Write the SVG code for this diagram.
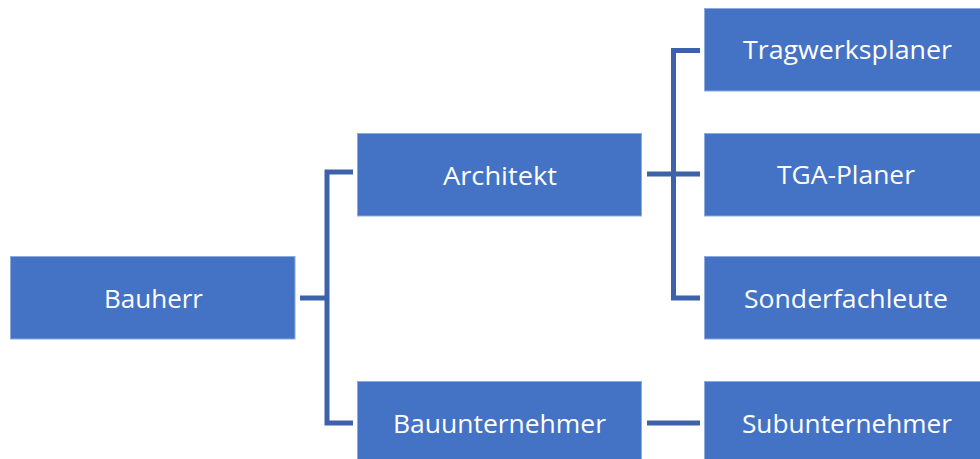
<svg xmlns="http://www.w3.org/2000/svg" width="980" height="459" viewBox="0 0 980 459">
  <style>
    .box { fill: #4472c4; stroke: #8eaadb; stroke-width: 1; }
    .lbl { fill: #ffffff; font-family: "Open Sans", "Liberation Sans", sans-serif; font-size: 26px; text-anchor: middle; }
    .link { fill: none; stroke: #3d62aa; stroke-width: 5; stroke-linejoin: miter; stroke-linecap: butt; }
  </style>
  <rect width="980" height="459" fill="#ffffff"/>

  <g id="connectors">
    <path class="link" d="M300,298 H327"/>
    <path class="link" d="M353,172 H327 V423 H353"/>
    <path class="link" d="M647,174 H700"/>
    <path class="link" d="M700,50.5 H673.5 V298 H700"/>
    <path class="link" d="M647,423 H700"/>
  </g>

  <g id="bauherr">
    <rect class="box" x="10.5" y="256.5" width="284.5" height="82.5"/>
    <text class="lbl" x="153.5" y="307.5" textLength="99" lengthAdjust="spacingAndGlyphs">Bauherr</text>
  </g>
  <g id="architekt">
    <rect class="box" x="357.5" y="133.5" width="284" height="82.5"/>
    <text class="lbl" x="500" y="184.5" textLength="114" lengthAdjust="spacingAndGlyphs">Architekt</text>
  </g>
  <g id="bauunternehmer">
    <rect class="box" x="357.5" y="381.5" width="284" height="82.5"/>
    <text class="lbl" x="499.5" y="432.5" textLength="213" lengthAdjust="spacingAndGlyphs">Bauunternehmer</text>
  </g>
  <g id="tragwerksplaner">
    <rect class="box" x="704.5" y="8.5" width="284" height="82.5"/>
    <text class="lbl" x="847.5" y="58.5" textLength="209" lengthAdjust="spacingAndGlyphs">Tragwerksplaner</text>
  </g>
  <g id="tga-planer">
    <rect class="box" x="704.5" y="133.5" width="284" height="82.5"/>
    <text class="lbl" x="846" y="183.5" textLength="138" lengthAdjust="spacingAndGlyphs">TGA-Planer</text>
  </g>
  <g id="sonderfachleute">
    <rect class="box" x="704.5" y="256.5" width="284" height="82.5"/>
    <text class="lbl" x="846" y="307.5" textLength="204" lengthAdjust="spacingAndGlyphs">Sonderfachleute</text>
  </g>
  <g id="subunternehmer">
    <rect class="box" x="704.5" y="381.5" width="284" height="82.5"/>
    <text class="lbl" x="847" y="432.5" textLength="210" lengthAdjust="spacingAndGlyphs">Subunternehmer</text>
  </g>
</svg>
